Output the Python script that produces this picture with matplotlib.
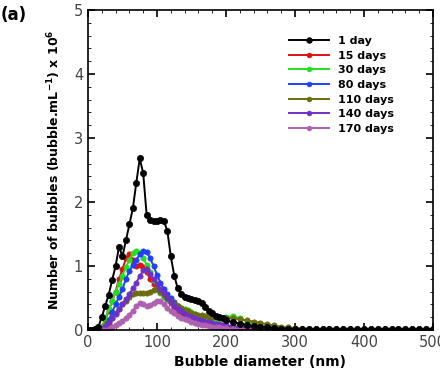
import matplotlib.pyplot as plt
from matplotlib.ticker import MultipleLocator

# bubble diameter (nm)
diam = [0, 5, 10, 15, 20, 25, 30, 35, 40, 45, 50, 55, 60, 65, 70, 75, 80, 85, 90, 95,
        100, 105, 110, 115, 120, 125, 130, 135, 140, 145, 150, 155, 160, 165, 170, 175,
        180, 185, 190, 195, 200, 210, 220, 230, 240, 250, 260, 270, 280, 290, 300, 310,
        320, 330, 340, 350, 360, 370, 380, 390, 400, 410, 420, 430, 440, 450, 460, 470,
        480, 490, 500]

# number of bubbles (x 10^6 bubble/mL)
day1 = [0, 0, 0.02, 0.05, 0.2, 0.38, 0.55, 0.78, 1.0, 1.3, 1.15, 1.4, 1.65, 1.9, 2.3,
        2.68, 2.45, 1.8, 1.72, 1.7, 1.7, 1.72, 1.7, 1.55, 1.15, 0.85, 0.65, 0.56, 0.52,
        0.5, 0.48, 0.47, 0.45, 0.42, 0.36, 0.3, 0.26, 0.22, 0.2, 0.18, 0.15, 0.12, 0.1,
        0.08, 0.06, 0.05, 0.04, 0.03, 0.02, 0.02, 0.01, 0.01, 0.01, 0.01, 0.01, 0.01,
        0.01, 0.01, 0.01, 0.01, 0.01, 0.01, 0.01, 0.01, 0.01, 0.01, 0.01, 0.01, 0.01,
        0.01, 0.01]
day15 = [0, 0, 0, 0, 0.05, 0.15, 0.3, 0.45, 0.6, 0.8, 0.95, 1.12, 1.18, 1.1, 1.0, 1.02,
         0.98, 0.9, 0.8, 0.72, 0.65, 0.62, 0.58, 0.5, 0.42, 0.36, 0.3, 0.26, 0.24, 0.22,
         0.2, 0.18, 0.17, 0.15, 0.13, 0.11, 0.1, 0.09, 0.08, 0.07, 0.06, 0.05, 0.04, 0.03,
         0.02, 0.02, 0.01, 0.01, 0.01, 0.01, 0.01, 0.01, 0.01, 0.01, 0.01, 0.01, 0.01,
         0.01, 0.01, 0.01, 0.01, 0.01, 0.01, 0.01, 0.01, 0.01, 0.01, 0.01, 0.01, 0.01, 0.01]
day30 = [0, 0, 0, 0, 0.05, 0.18, 0.32, 0.45, 0.6, 0.72, 0.85, 0.98, 1.1, 1.2, 1.24, 1.2,
         1.12, 1.02, 0.9, 0.78, 0.66, 0.58, 0.52, 0.47, 0.43, 0.4, 0.37, 0.35, 0.33, 0.31,
         0.28, 0.25, 0.22, 0.2, 0.19, 0.18, 0.17, 0.16, 0.17, 0.18, 0.2, 0.22, 0.18, 0.14,
         0.1, 0.07, 0.05, 0.04, 0.03, 0.02, 0.01, 0.01, 0.01, 0.01, 0.01, 0.01, 0.01, 0.01,
         0.01, 0.01, 0.01, 0.01, 0.01, 0.01, 0.01, 0.01, 0.01, 0.01, 0.01, 0.01, 0.01]
day80 = [0, 0, 0, 0, 0, 0.05, 0.15, 0.28, 0.4, 0.52, 0.64, 0.8, 0.92, 1.02, 1.1, 1.18,
         1.24, 1.22, 1.12, 1.0, 0.86, 0.74, 0.64, 0.56, 0.5, 0.44, 0.38, 0.33, 0.29, 0.26,
         0.23, 0.2, 0.17, 0.14, 0.12, 0.1, 0.08, 0.06, 0.05, 0.04, 0.03, 0.02, 0.02, 0.01,
         0.01, 0.01, 0.01, 0.01, 0.01, 0.01, 0.01, 0.01, 0.01, 0.01, 0.01, 0.01, 0.01, 0.01,
         0.01, 0.01, 0.01, 0.01, 0.01, 0.01, 0.01, 0.01, 0.01, 0.01, 0.01, 0.01, 0.01]
day110 = [0, 0, 0, 0, 0, 0.03, 0.1, 0.18, 0.26, 0.33, 0.4, 0.46, 0.52, 0.56, 0.58, 0.58,
          0.57, 0.58, 0.6, 0.63, 0.64, 0.6, 0.55, 0.5, 0.45, 0.41, 0.37, 0.34, 0.31, 0.29,
          0.27, 0.25, 0.24, 0.23, 0.22, 0.21, 0.21, 0.2, 0.2, 0.19, 0.19, 0.18, 0.17, 0.15,
          0.13, 0.11, 0.09, 0.07, 0.05, 0.04, 0.03, 0.02, 0.02, 0.01, 0.01, 0.01, 0.01,
          0.01, 0.01, 0.01, 0.01, 0.01, 0.01, 0.01, 0.01, 0.01, 0.01, 0.01, 0.01, 0.01, 0.01]
day140 = [0, 0, 0, 0, 0.02, 0.06, 0.12, 0.18, 0.25, 0.32, 0.4, 0.48, 0.56, 0.65, 0.74,
          0.84, 0.93, 0.95, 0.88, 0.8, 0.72, 0.64, 0.57, 0.5, 0.44, 0.38, 0.33, 0.29, 0.25,
          0.22, 0.2, 0.18, 0.16, 0.14, 0.13, 0.12, 0.11, 0.1, 0.09, 0.08, 0.07, 0.06, 0.05,
          0.04, 0.03, 0.02, 0.02, 0.01, 0.01, 0.01, 0.01, 0.01, 0.01, 0.01, 0.01, 0.01,
          0.01, 0.01, 0.01, 0.01, 0.01, 0.01, 0.01, 0.01, 0.01, 0.01, 0.01, 0.01, 0.01,
          0.01, 0.01]
day170 = [0, 0, 0, 0, 0, 0, 0.02, 0.05, 0.08, 0.11, 0.14, 0.18, 0.24, 0.3, 0.37, 0.42,
          0.4, 0.38, 0.39, 0.42, 0.46, 0.45, 0.4, 0.35, 0.3, 0.26, 0.22, 0.19, 0.17, 0.15,
          0.13, 0.11, 0.1, 0.08, 0.07, 0.06, 0.05, 0.04, 0.04, 0.03, 0.03, 0.02, 0.02, 0.01,
          0.01, 0.01, 0.01, 0.01, 0.01, 0.01, 0.01, 0.01, 0.01, 0.01, 0.01, 0.01, 0.01,
          0.01, 0.01, 0.01, 0.01, 0.01, 0.01, 0.01, 0.01, 0.01, 0.01, 0.01, 0.01, 0.01, 0.01]

series = [day1, day15, day30, day80, day110, day140, day170]
labels = ["1 day", "15 days", "30 days", "80 days", "110 days", "140 days", "170 days"]
colors = ["black", "#e01010", "#20e020", "#2040ff", "#6b6b10", "#7030c8", "#b060b0"]

fig = plt.figure(figsize=(4.4, 3.85), dpi=100)
ax = fig.add_axes([0.2, 0.143, 0.784, 0.831])

for i, (y, lab, c) in enumerate(zip(series, labels, colors)):
    ms = 4.5 if i == 0 else 3.8
    ax.plot(diam, y, color=c, marker="o", markersize=ms, linewidth=1.4,
            markeredgewidth=0.5, label=lab, zorder=3 if i == 0 else 2)

ax.set_xlim(0, 500)
ax.set_ylim(0, 5)
ax.xaxis.set_major_locator(MultipleLocator(100))
ax.xaxis.set_minor_locator(MultipleLocator(20))
ax.yaxis.set_major_locator(MultipleLocator(1))
ax.yaxis.set_minor_locator(MultipleLocator(0.2))
ax.tick_params(which="both", direction="in", top=True, right=True, labelsize=10.5,
               labelcolor="#444444")
ax.tick_params(which="major", length=5, width=1.2)
ax.tick_params(which="minor", length=2.5)
for s in ax.spines.values():
    s.set_linewidth(1.2)

ax.set_xlabel("Bubble diameter (nm)", fontsize=10, fontweight="bold")
ax.set_ylabel("Number of bubbles (bubble.mL$^{\\mathbf{-1}}$) x 10$^{\\mathbf{6}}$",
              fontsize=9, fontweight="bold", labelpad=8)
fig.text(0.002, 0.985, "(a)", fontsize=12, fontweight="bold", va="top")

leg = ax.legend(loc="upper right", bbox_to_anchor=(0.915, 0.95), frameon=False,
                prop={"weight": "bold", "size": 8}, handlelength=3.6,
                labelspacing=0.42, markerscale=0.9)

fig.savefig("out.png", dpi=100)
